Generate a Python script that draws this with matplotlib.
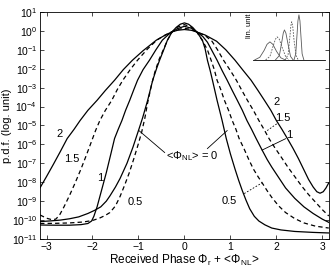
import numpy as np
import matplotlib.pyplot as plt

plt.rcParams['font.family'] = 'Liberation Sans'
plt.rcParams['mathtext.fontset'] = 'custom'
plt.rcParams['mathtext.rm'] = 'Liberation Sans'
plt.rcParams['mathtext.it'] = 'Liberation Sans:italic'

# p.d.f. curves as (phase, log10 p.d.f.)
x_0 = [-3.14, -2.9, -2.7, -2.5, -2.3, -2.1, -1.95, -1.82, -1.7, -1.62, -1.5, -1.4, -1.25, -1.12, -1.0,
       -0.91, -0.8, -0.69, -0.6, -0.54, -0.45, -0.37, -0.27, -0.18, -0.09, 0.0,
       0.09, 0.18, 0.27, 0.39, 0.45, 0.5, 0.56, 0.61, 0.71, 0.82, 0.91, 1.0, 1.1, 1.18, 1.26, 1.34,
       1.42, 1.52, 1.62, 1.75, 1.9, 2.1, 2.4, 2.8, 3.14]
L_0 = [-10.08, -10.04, -10.0, -9.93, -9.83, -9.65, -9.48, -9.3, -9.0, -8.72, -8.25, -7.8, -7.0, -6.15, -5.27,
       -4.6, -3.67, -2.61, -1.95, -1.55, -1.0, -0.49, -0.06, 0.18, 0.35, 0.42,
       0.35, 0.18, -0.06, -0.49, -0.95, -1.55, -2.1, -2.61, -3.67, -4.74, -5.69, -6.5, -7.3, -7.9, -8.45, -8.95,
       -9.4, -9.8, -10.05, -10.25, -10.42, -10.52, -10.6, -10.65, -10.68]

x_05 = [-3.14, -2.8, -2.5, -2.2, -2.0, -1.85, -1.72, -1.62, -1.5, -1.4, -1.3, -1.2, -1.1, -1.0, -0.93,
        -0.86, -0.8, -0.72, -0.64, -0.55, -0.45, -0.37, -0.27, -0.15, 0.0,
        0.15, 0.27, 0.4, 0.5, 0.58, 0.65, 0.71, 0.79, 0.87, 0.96, 1.04, 1.12, 1.19, 1.3, 1.4, 1.5,
        1.6, 1.69, 1.8, 1.9, 2.05, 2.2, 2.4, 2.6, 2.85, 3.14]
L_05 = [-10.18, -10.17, -10.15, -10.1, -10.02, -9.9, -9.75, -9.6, -9.25, -8.75, -8.15, -7.5, -6.75, -5.95, -5.35,
        -4.6, -3.8, -2.9, -2.15, -1.5, -0.95, -0.5, -0.06, 0.2, 0.33,
        0.2, -0.06, -0.55, -1.0, -1.55, -2.05, -2.61, -3.1, -3.67, -4.2, -4.74, -5.2, -5.69, -6.25, -6.8, -7.3,
        -7.7, -8.03, -8.45, -8.8, -9.25, -9.6, -9.92, -10.15, -10.32, -10.42]

x_1 = [-3.14, -2.8, -2.5, -2.25, -2.1, -2.02, -1.97, -1.9, -1.8, -1.7, -1.6, -1.52, -1.44, -1.36, -1.28,
       -1.19, -1.1, -1.02, -0.9, -0.76, -0.62, -0.48, -0.35, -0.27, -0.15, 0.0,
       0.15, 0.27, 0.4, 0.5, 0.6, 0.71, 0.82, 0.93, 1.04, 1.15, 1.26, 1.36, 1.46, 1.56, 1.69, 1.8,
       1.9, 2.05, 2.2, 2.4, 2.6, 2.8, 3.0, 3.14]
L_1 = [-10.26, -10.27, -10.27, -10.24, -10.18, -10.05, -9.8, -9.3, -8.4, -7.5, -6.5, -5.69, -5.2, -4.74, -4.2,
       -3.67, -3.1, -2.61, -2.05, -1.55, -1.0, -0.49, -0.2, -0.06, 0.12, 0.24,
       0.14, -0.06, -0.3, -0.6, -1.05, -1.55, -2.1, -2.61, -3.15, -3.67, -4.2, -4.74, -5.2, -5.69, -6.3, -6.8,
       -7.2, -7.75, -8.3, -8.85, -9.3, -9.65, -9.95, -10.12]

x_15 = [-3.14, -3.0, -2.88, -2.8, -2.72, -2.62, -2.5, -2.38, -2.25, -2.13, -2.03, -1.93, -1.84, -1.72,
        -1.58, -1.46, -1.34, -1.18, -1.02, -0.8, -0.6, -0.42, -0.28, -0.15, 0.0,
        0.15, 0.27, 0.45, 0.6, 0.72, 0.85, 1.0, 1.13, 1.25, 1.37, 1.5, 1.62, 1.73, 1.84, 1.96, 2.1,
        2.25, 2.4, 2.55, 2.7, 2.85, 3.0, 3.14]
L_15 = [-9.73, -9.9, -9.98, -9.95, -9.75, -9.3, -8.7, -8.05, -7.3, -6.55, -5.9, -5.25, -4.74, -4.2,
        -3.67, -3.1, -2.61, -2.05, -1.55, -0.95, -0.49, -0.22, -0.06, 0.07, 0.14,
        0.07, -0.06, -0.25, -0.55, -1.0, -1.55, -2.1, -2.61, -3.15, -3.67, -4.2, -4.74, -5.2, -5.69, -6.15, -6.65,
        -7.2, -7.7, -8.2, -8.65, -9.05, -9.45, -9.78]

x_2 = [-3.14, -3.0, -2.85, -2.7, -2.55, -2.4, -2.27, -2.1, -1.9, -1.72, -1.52, -1.33, -1.13, -0.9,
       -0.61, -0.45, -0.28, -0.15, 0.0,
       0.15, 0.27, 0.45, 0.7, 0.9, 1.1, 1.28, 1.45, 1.6, 1.74, 1.88, 2.0, 2.12, 2.24, 2.36, 2.48,
       2.6, 2.7, 2.8, 2.88, 2.95, 3.02, 3.08, 3.14]
L_2 = [-8.29, -7.7, -7.05, -6.38, -5.69, -5.2, -4.74, -4.2, -3.67, -3.15, -2.61, -2.05, -1.55, -1.05,
       -0.49, -0.27, -0.06, 0.03, 0.07,
       0.03, -0.06, -0.22, -0.55, -1.0, -1.55, -2.1, -2.61, -3.15, -3.67, -4.2, -4.74, -5.2, -5.69, -6.2, -6.75,
       -7.35, -7.85, -8.25, -8.5, -8.58, -8.5, -8.3, -8.03]

# inset (linear scale) peaks: phase, height
ix_2 = [-3.05, -2.7, -2.4, -2.2, -2.0, -1.8, -1.55, -1.25, -0.95]
iy_2 = [0.0, 0.15, 0.55, 0.9, 1.04, 0.9, 0.5, 0.12, 0.0]
ix_15 = [-2.3, -2.0, -1.8, -1.62, -1.5, -1.36, -1.15, -0.9, -0.7]
iy_15 = [0.0, 0.2, 0.75, 1.2, 1.33, 1.2, 0.7, 0.15, 0.0]
ix_1 = [-1.62, -1.35, -1.2, -1.08, -1.0, -0.9, -0.75, -0.58, -0.4]
iy_1 = [0.0, 0.25, 0.95, 1.55, 1.73, 1.55, 0.9, 0.2, 0.0]
ix_05 = [-0.95, -0.75, -0.64, -0.56, -0.5, -0.43, -0.34, -0.2, -0.05]
iy_05 = [0.0, 0.3, 1.2, 1.95, 2.2, 1.95, 1.15, 0.25, 0.0]
ix_0 = [-0.34, -0.22, -0.14, -0.07, 0.0, 0.07, 0.14, 0.22, 0.34]
iy_0 = [0.0, 0.35, 1.35, 2.25, 2.6, 2.25, 1.35, 0.35, 0.0]

fig = plt.figure(figsize=(3.32, 2.71), dpi=100)
ax = fig.add_axes([0.1205, 0.118, 0.870, 0.838])

solid = dict(color='k', lw=0.9)
dashed = dict(color='k', lw=0.9, ls=(0, (3.5, 2.5)))
ax.semilogy(x_0, 10.0**np.array(L_0), **solid)
ax.semilogy(x_05, 10.0**np.array(L_05), **dashed)
ax.semilogy(x_1, 10.0**np.array(L_1), **solid)
ax.semilogy(x_15, 10.0**np.array(L_15), **dashed)
ax.semilogy(x_2, 10.0**np.array(L_2), **solid)

ax.set_xlim(-np.pi, np.pi)
ax.set_ylim(1e-11, 1e1)
ax.set_xticks([-3, -2, -1, 0, 1, 2, 3])
ax.set_yticks(10.0**np.arange(-11, 2))
ax.minorticks_off()
ax.tick_params(direction='in', top=True, right=True, length=3, width=0.5, labelsize=7.5, pad=2)
for s in ax.spines.values():
    s.set_linewidth(0.6)
ax.set_xlabel(r'Received Phase $\Phi_\mathrm{r}$ + <$\Phi_\mathrm{NL}$>', fontsize=8.5, labelpad=1)
ax.set_ylabel('p.d.f. (log. unit)', fontsize=8)
ax.yaxis.set_label_coords(-0.098, 0.5)

# curve labels
tk = dict(fontsize=8, ha='center', va='center')
ax.text(-2.72, 10**-5.43, '2', **tk)
ax.text(-2.45, 10**-6.75, '1.5', **tk)
ax.text(-1.84, 10**-7.76, '1', **tk)
ax.text(-1.08, 10**-9.04, '0.5', **tk)
ax.text(0.17, 10**-6.6, r'<$\Phi_\mathrm{NL}$> = 0', **tk)
ax.plot([-0.43, -0.99], [10**-6.43, 10**-5.27], color='k', lw=0.6)
ax.plot([0.5, 0.93], [10**-6.22, 10**-5.27], color='k', lw=0.6)
ax.text(0.97, 10**-8.98, '0.5', **tk)
ax.plot([1.3, 1.69], [10**-8.6, 10**-8.03], color='k', lw=0.6, ls=(0, (2, 2)))
ax.text(2.01, 10**-3.78, '2', **tk)
ax.text(2.14, 10**-4.58, '1.5', **tk)
ax.plot([1.8, 2.04], [10**-5.27, 10**-4.86], color='k', lw=0.6, ls=(0, (2, 2)))
ax.text(2.29, 10**-5.48, '1', **tk)
ax.plot([1.69, 2.2], [10**-6.3, 10**-5.7], color='k', lw=0.6)

# inset in linear units
ins = fig.add_axes([0.762, 0.779, 0.217, 0.177])
ins.plot(ix_2, iy_2, color='0.35', lw=0.6)
ins.plot(ix_15, iy_15, color='0.35', lw=0.6, ls=(0, (2, 1.5)))
ins.plot(ix_1, iy_1, color='0.35', lw=0.6)
ins.plot(ix_05, iy_05, color='0.35', lw=0.6, ls=(0, (2, 1.5)))
ins.plot(ix_0, iy_0, color='0.35', lw=0.6)
ins.set_xlim(-3.17, 1.8)
ins.set_ylim(0, 2.77)
ins.set_xticks([])
ins.set_yticks([])
for k in ['top', 'right', 'left']:
    ins.spines[k].set_visible(False)
ins.spines['bottom'].set_linewidth(0.6)
ins.patch.set_alpha(0)
ins.set_ylabel('lin. unit', fontsize=5.5)
ins.yaxis.set_label_coords(0.0, 0.72)

fig.savefig('out.png', dpi=100)
